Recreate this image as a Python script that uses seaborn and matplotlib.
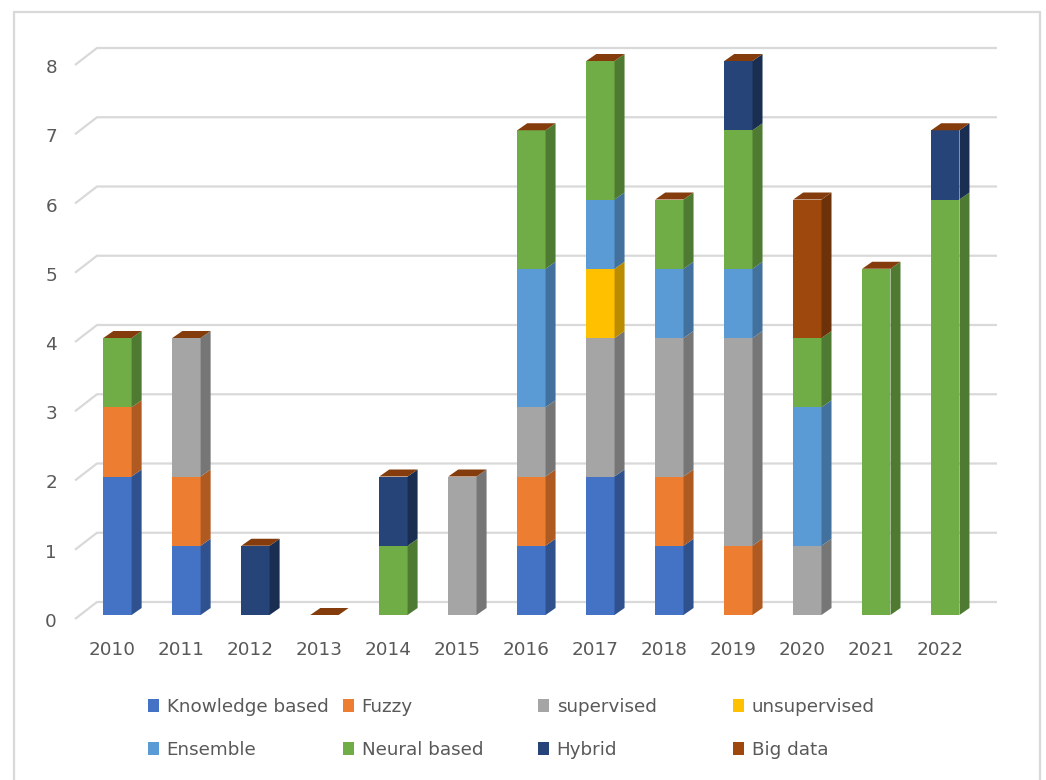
import numpy as np
import pandas as pd
import matplotlib.pyplot as plt
import seaborn as sns
from matplotlib.patches import Polygon
from matplotlib.lines import Line2D
from matplotlib.transforms import ScaledTranslation

# ── data ─────────────────────────────────────
YEARS = ["2010", "2011", "2012", "2013", "2014", "2015", "2016",
         "2017", "2018", "2019", "2020", "2021", "2022"]

KNOWLEDGE    = [2, 1, 0, 0, 0, 0, 1, 2, 1, 0, 0, 0, 0]
FUZZY        = [1, 1, 0, 0, 0, 0, 1, 0, 1, 1, 0, 0, 0]
SUPERVISED   = [0, 2, 0, 0, 0, 2, 1, 2, 2, 3, 1, 0, 0]
UNSUPERVISED = [0, 0, 0, 0, 0, 0, 0, 1, 0, 0, 0, 0, 0]
ENSEMBLE     = [0, 0, 0, 0, 0, 0, 2, 1, 1, 1, 2, 0, 0]
NEURAL       = [1, 0, 0, 0, 1, 0, 2, 2, 1, 2, 1, 5, 6]
HYBRID       = [0, 0, 1, 0, 1, 0, 0, 0, 0, 1, 0, 0, 1]
BIG_DATA     = [0, 0, 0, 0, 0, 0, 0, 0, 0, 0, 2, 0, 0]

SERIES = [
    ("Knowledge based", KNOWLEDGE,    "#4472C4", "#2F528F"),
    ("Fuzzy",           FUZZY,        "#ED7D31", "#AE5A21"),
    ("supervised",      SUPERVISED,   "#A5A5A5", "#767676"),
    ("unsupervised",    UNSUPERVISED, "#FFC000", "#BC8C00"),
    ("Ensemble",        ENSEMBLE,     "#5B9BD5", "#41719C"),
    ("Neural based",    NEURAL,       "#70AD47", "#4E7A31"),
    ("Hybrid",          HYBRID,       "#264478", "#1A2E52"),
    ("Big data",        BIG_DATA,     "#9E480E", "#6E320A"),
]
CAP_COLOR = "#843C0C"
GRID_COLOR = "#D9D9D9"
TEXT_COLOR = "#595959"
FONT_SIZE = 13.2

# ── figure / axes (front plane of the 3D box) ─
sns.set_style("white")
plt.rcParams["font.family"] = ["DejaVu Sans"]

W, H = 1046, 780
fig = plt.figure(figsize=(W / 100, H / 100), dpi=100)
fig.patch.set_facecolor("white")

def px(x, y):
    """pixel offset helper (dpi = 100)"""
    return ScaledTranslation(x / 100, y / 100, fig.dpi_scale_trans)

ax_left, ax_right = 75, 975
y_zero, y_top = 615, 61
ax = fig.add_axes([ax_left / W, (H - y_zero) / H,
                   (ax_right - ax_left) / W, (y_zero - y_top) / H])

bar_w = 0.41
bottom = np.zeros(len(YEARS))
for name, vals, col, _ in SERIES:
    df = pd.DataFrame({"year": YEARS, "n": vals})
    sns.barplot(data=df, x="year", y="n", order=YEARS, color=col,
                saturation=1, width=bar_w, errorbar=None, bottom=bottom,
                label=name, ax=ax, zorder=3, linewidth=0)
    bottom = bottom + np.array(vals)

XL, XR = -0.616, 12.43
ax.set_xlim(XL, XR)
ax.set_ylim(0, 8)
ax.set_xlabel("")
ax.set_ylabel("")
for s in ax.spines.values():
    s.set_visible(False)

# pixel -> data scale factors
fig.canvas.draw()
p0 = ax.transData.transform((0, 0))
p1 = ax.transData.transform((1, 1))
ppx, ppy = p1[0] - p0[0], p1[1] - p0[1]

# ── gridlines on floor edge + back wall ───────
back_dx, back_dy = 22, 13
x_back_end = XL + (997 - ax_left) / ppx
for k in range(0, 9):
    xs = [XL, XL + back_dx / ppx, x_back_end]
    ys = [k - 4 / ppy, k + back_dy / ppy, k + back_dy / ppy]
    ax.plot(xs, ys, color=GRID_COLOR, lw=1.6, zorder=0, clip_on=False,
            solid_capstyle="butt")

# ── side faces and top caps ───────────────────
dep_x, dep_y = 10 / ppx, 7 / ppy
bottom = np.zeros(len(YEARS))
for name, vals, col, side in SERIES:
    for j, v in enumerate(vals):
        if v <= 0:
            continue
        x1 = j + bar_w / 2
        b, t = bottom[j], bottom[j] + v
        ax.add_patch(Polygon([(x1, b), (x1 + dep_x, b + dep_y),
                              (x1 + dep_x, t + dep_y), (x1, t)],
                             closed=True, facecolor=side, edgecolor="none",
                             zorder=3, clip_on=False))
    bottom = bottom + np.array(vals)

for j, tot in enumerate(bottom):
    x0, x1 = j - bar_w / 2, j + bar_w / 2
    ax.add_patch(Polygon([(x0, tot), (x1, tot), (x1 + dep_x, tot + dep_y),
                          (x0 + dep_x, tot + dep_y)],
                         closed=True, facecolor=CAP_COLOR, edgecolor="none",
                         zorder=4, clip_on=False))

# ── ticks ─────────────────────────────────────
ax.set_yticks(range(0, 9))
ax.set_yticklabels([str(k) for k in range(0, 9)])
ax.tick_params(axis="y", length=0, pad=13, labelsize=FONT_SIZE, labelcolor=TEXT_COLOR)
ax.tick_params(axis="x", length=0, pad=19, labelsize=FONT_SIZE, labelcolor=TEXT_COLOR)
for lab in ax.get_yticklabels():
    lab.set_transform(lab.get_transform() + px(0, -5))
for lab in ax.get_xticklabels():
    lab.set_transform(lab.get_transform() + px(-5, 0))

# ── legend: 4 fixed-width columns, 2 rows ─────
handles, labels = ax.get_legend_handles_labels()
if ax.get_legend() is not None:
    ax.get_legend().remove()
col_x = [148, 343, 538, 733]
for c in range(4):
    idx = [c, c + 4]
    fig.legend([handles[i] for i in idx], [labels[i] for i in idx],
               loc="center left", bbox_to_anchor=(col_x[c] / W, 1 - 728.5 / H),
               frameon=False, fontsize=FONT_SIZE, labelcolor=TEXT_COLOR,
               handlelength=0.62, handleheight=0.75, handletextpad=0.4,
               labelspacing=1.35, borderpad=0, borderaxespad=0)

# ── outer chart border ────────────────────────
bx0, bx1, by0 = 14 / W, 1040 / W, 1 - 12 / H
for xs, ys in [([bx0, bx0], [0, by0]), ([bx0, bx1], [by0, by0]), ([bx1, bx1], [by0, 0])]:
    fig.add_artist(Line2D(xs, ys, color=GRID_COLOR, lw=1.6, transform=fig.transFigure))

fig.savefig("out.png", dpi=100, facecolor="white")
